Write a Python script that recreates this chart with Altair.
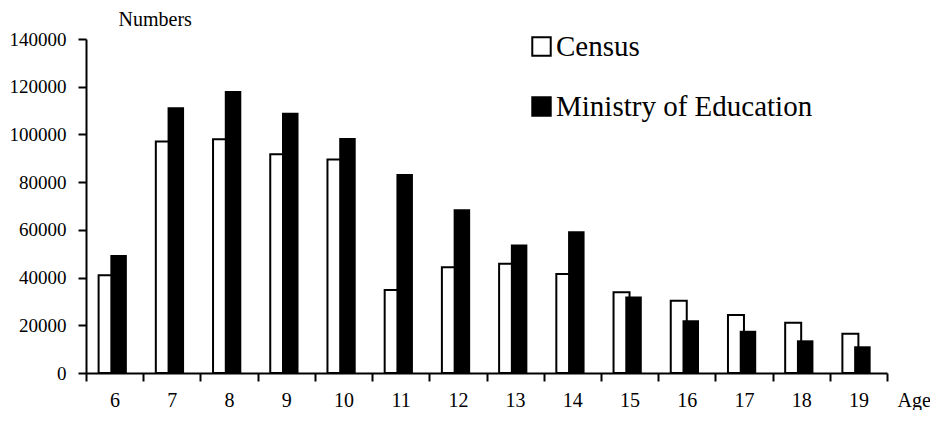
import altair as alt
import pandas as pd

ages = [6, 7, 8, 9, 10, 11, 12, 13, 14, 15, 16, 17, 18, 19]
census = [41000, 97000, 98000, 91700, 89500, 34800, 44300, 45800, 41500, 33800, 30300, 24300, 21100, 16500]
ministry = [49500, 111400, 118200, 109100, 98500, 83400, 68600, 53900, 59400, 32100, 22100, 17700, 13700, 11200]
series_names = ["Census", "Ministry of Education"]
y_ticks = [0, 20000, 40000, 60000, 80000, 100000, 120000, 140000]

rows = []
for a, c, m in zip(ages, census, ministry):
    rows.append({"age": a, "source": series_names[0], "value": c})
    rows.append({"age": a, "source": series_names[1], "value": m})
df = pd.DataFrame(rows)

FONT = "Liberation Serif"

x_enc = alt.X(
    "age:O",
    sort=ages,
    scale=alt.Scale(paddingInner=0, paddingOuter=0),
    axis=alt.Axis(
        title="Age",
        titleFont=FONT, titleFontSize=20, titleFontWeight="normal", titleColor="black",
        titleX=811, titleY=33, titleAlign="left", titleBaseline="alphabetic",
        labelAngle=0, labelFont=FONT, labelFontSize=20, labelColor="black",
        labelBaseline="alphabetic", labelPadding=25,
        tickBand="extent", tickSize=8, tickWidth=2, tickColor="black",
        domainWidth=2, domainColor="black", grid=False,
    ),
)
y_scale = alt.Scale(domain=[0, 140000], nice=False)
y_axis = alt.Axis(
    title="Numbers",
    titleFont=FONT, titleFontSize=20, titleFontWeight="normal", titleColor="black",
    titleAngle=0, titleX=32, titleY=-14, titleAlign="left", titleBaseline="alphabetic",
    values=y_ticks, format="d",
    labelFont=FONT, labelFontSize=19, labelColor="black", labelPadding=12,
    tickSize=8, tickWidth=2, tickColor="black",
    domainWidth=2, domainColor="black", grid=False,
)
color_enc = alt.Color(
    "source:N",
    scale=alt.Scale(domain=series_names, range=["white", "black"]),
    legend=alt.Legend(
        title=None, orient="none", legendX=441, legendY=-7, direction="vertical",
        symbolType="square", symbolSize=340, symbolStrokeColor="black", symbolStrokeWidth=2,
        labelFont=FONT, labelFontSize=29, labelColor="black", labelOffset=0, labelLimit=0,
        rowPadding=30, padding=0,
    ),
)

base = alt.Chart(df)
census_bars = base.transform_filter(alt.datum.source == series_names[0]).mark_bar(
    width=16, xOffset=-8, stroke="black", strokeWidth=2
).encode(x=x_enc, y=alt.Y("value:Q", scale=y_scale, axis=y_axis), color=color_enc)
ministry_bars = base.transform_filter(alt.datum.source == series_names[1]).mark_bar(
    width=16.5, xOffset=4, y2Offset=5
).encode(x=x_enc, y=alt.Y("value:Q", scale=y_scale, axis=y_axis), color=color_enc)

chart = alt.layer(census_bars, ministry_bars).properties(
    width=801, height=334,
    autosize=alt.AutoSizeParams(type="none"),
    padding={"left": 78, "top": 31, "right": 43, "bottom": 37},
    background="white",
).configure_view(stroke=None)

chart.save("out.html", embed_options={"renderer": "svg", "actions": False})
